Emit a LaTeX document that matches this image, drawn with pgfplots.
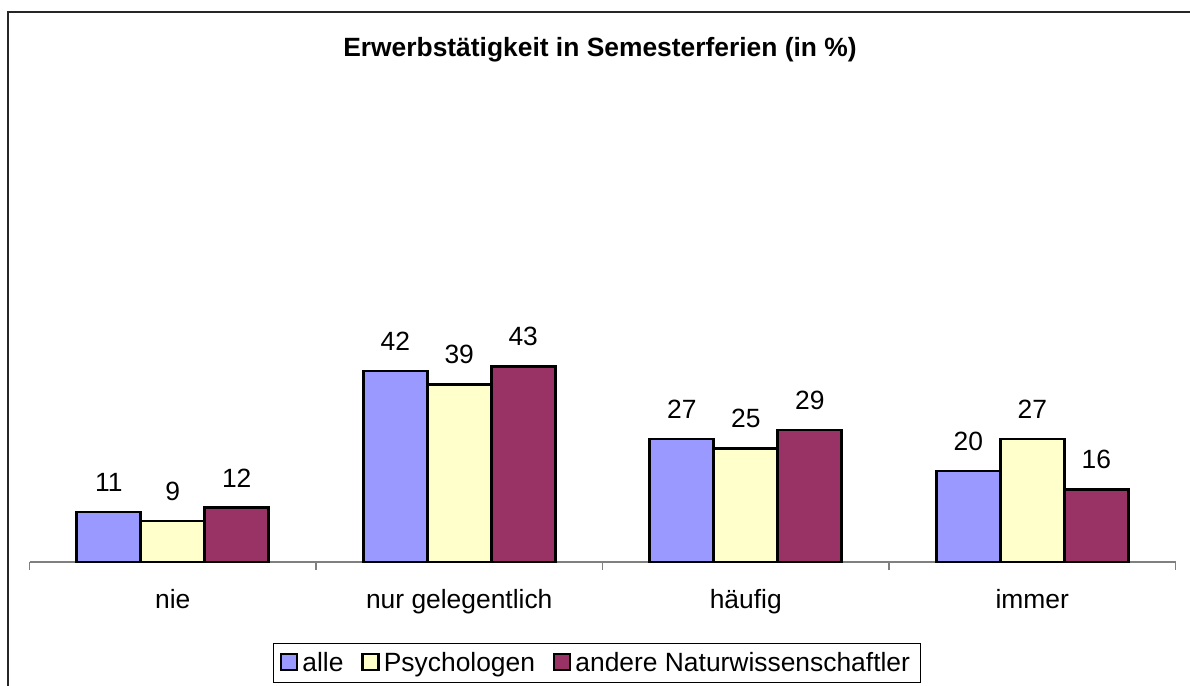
\documentclass[border=0pt]{standalone}
\usepackage{fontspec}
\setmainfont{Liberation Sans}
\usepackage{pgfplots}
\pgfplotsset{compat=1.18}
\definecolor{cA}{HTML}{9999FF}
\definecolor{cB}{HTML}{FFFFCC}
\definecolor{cC}{HTML}{993366}
\definecolor{axgray}{HTML}{808080}
\newcommand{\chartfont}{\fontsize{13.2}{15.8}\selectfont}
\begin{document}
\begin{tikzpicture}
\begin{axis}[
  at={(14.75pt,62pt)}, anchor=south west,
  scale only axis, width=573pt, height=227.5pt,
  xmin=-0.5, xmax=3.5, ymin=0, ymax=100,
  axis x line=bottom, axis y line=none,
  x axis line style={-, draw=axgray, line width=0.6pt},
  ybar=0pt, bar width=32pt,
  xtick={0,1,2,3},
  xticklabels={nie, nur gelegentlich, häufig, immer},
  major tick length=0pt,
  extra x ticks={-0.5,0.5,1.5,2.5,3.5},
  extra x tick labels={},
  extra x tick style={major tick length=4pt, tick align=outside,
     tick style={draw=axgray, line width=0.6pt}},
  xticklabel style={font=\chartfont, anchor=north, yshift=-10pt},
  nodes near coords,
  nodes near coords style={font=\chartfont, anchor=south, inner sep=0pt, yshift=9.5pt, text=black},
  /pgf/number format/assume math mode=true,
  title={\bfseries Erwerbstätigkeit in Semesterferien (in \%)},
  title style={font=\chartfont, at={(0.5,1)}, anchor=base, yshift=19pt, xshift=-1.25pt},
  legend columns=3,
  legend style={at={(0.4952,-0.222)}, anchor=center, draw=black, line width=0.5pt,
     font=\chartfont, inner xsep=3pt, inner ysep=2pt,
     /tikz/every even column/.append style={column sep=7pt}},
  legend image code/.code={\draw[#1, line width=1.2pt] (0pt,-3.6pt) rectangle (8pt,4.4pt);},
  clip=false,
]
\addplot[fill=cA, draw=black, line width=1.3pt] coordinates {(0,11) (1,42) (2,27) (3,20)};
\addplot[fill=cB, draw=black, line width=1.3pt] coordinates {(0,9) (1,39) (2,25) (3,27)};
\addplot[fill=cC, draw=black, line width=1.3pt] coordinates {(0,12) (1,43) (2,29) (3,16)};
\legend{alle, Psychologen, andere Naturwissenschaftler}
\end{axis}
\draw[line width=0.9pt, black!85] (4pt,-2pt) -- (4pt,337pt) -- (597pt,337pt);
\pgfresetboundingbox
\useasboundingbox (0,0) rectangle (595pt,343pt);
\end{tikzpicture}
\end{document}
